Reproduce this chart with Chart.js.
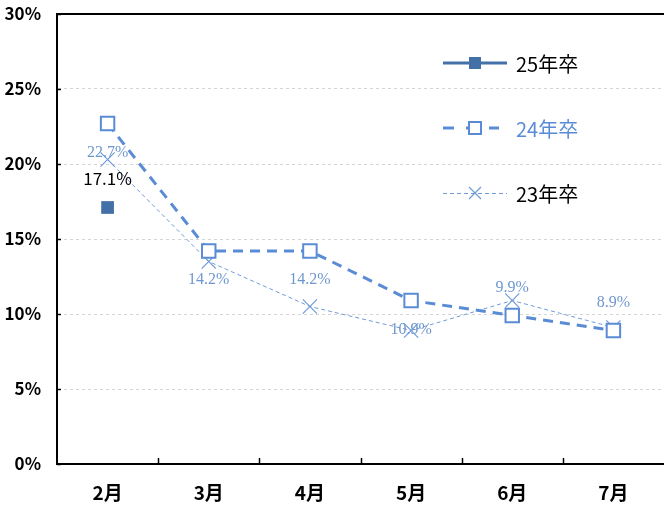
<!DOCTYPE html>
<html>
<head>
<meta charset="utf-8">
<script src="https://cdn.jsdelivr.net/npm/chart.js@4.4.1/dist/chart.umd.min.js"></script>
<style>
  html, body { margin: 0; padding: 0; background: #fff; }
</style>
</head>
<body>
<canvas id="chart" width="664" height="506"></canvas>
<script>
// values (percent)
const months = ['2月', '3月', '4月', '5月', '6月', '7月'];
const grad25 = [17.1, null, null, null, null, null];
const grad24 = [22.7, 14.2, 14.2, 10.9, 9.9, 8.9];
const grad23 = [20.3, 13.5, 10.5, 8.9, 10.9, 9.1];
const yTicks = [0, 5, 10, 15, 20, 25, 30];
const seriesNames = ['25年卒', '24年卒', '23年卒'];
// where the 24年卒 value labels sit relative to their point
const label24Side = ['below', 'below', 'below', 'below', 'above', 'above'];

const C25 = '#4470a8';
const C24 = '#5a8cd6';
const C23 = '#6f9bd8';
const LABEL_BLUE = '#6f97cf';
const SANS = '"Noto Sans CJK JP", "Noto Sans", sans-serif';

// extra drawing: frame top, inside ticks, value labels and the legend
const decor = {
    id: 'decor',
    afterDatasetsDraw(chart) {
        const ctx = chart.ctx;
        const area = chart.chartArea;
        const x = chart.scales.x;
        const y = chart.scales.y;
        ctx.save();

        // top frame line
        ctx.strokeStyle = '#000';
        ctx.lineWidth = 2;
        ctx.beginPath();
        ctx.moveTo(area.left, area.top);
        ctx.lineTo(area.right, area.top);
        ctx.stroke();

        // x ticks between categories, pointing inward
        ctx.lineWidth = 1.5;
        for (let i = 1; i < months.length; i++) {
            const px = Math.round((x.getPixelForValue(i - 1) + x.getPixelForValue(i)) / 2) + 0.5;
            ctx.beginPath();
            ctx.moveTo(px, area.bottom);
            ctx.lineTo(px, area.bottom - 6);
            ctx.stroke();
        }
        // y ticks inward
        yTicks.forEach(v => {
            const py = Math.round(y.getPixelForValue(v)) + 0.5;
            ctx.beginPath();
            ctx.moveTo(area.left, py);
            ctx.lineTo(area.left + 4, py);
            ctx.stroke();
        });

        // 24年卒 value labels
        const meta24 = chart.getDatasetMeta(1);
        ctx.font = '16px "Liberation Serif", serif';
        ctx.fillStyle = LABEL_BLUE;
        ctx.textAlign = 'center';
        ctx.textBaseline = 'middle';
        grad24.forEach((v, i) => {
            const pt = meta24.data[i];
            const dy = label24Side[i] === 'below' ? 29 : -28;
            ctx.fillText(v.toFixed(1) + '%', pt.x, pt.y + dy);
        });

        // 25年卒 value label
        const meta25 = chart.getDatasetMeta(0);
        ctx.font = '17px ' + SANS;
        ctx.fillStyle = '#000';
        grad25.forEach((v, i) => {
            if (v === null) return;
            const pt = meta25.data[i];
            ctx.fillText(v.toFixed(1) + '%', pt.x, pt.y - 29);
        });

        // legend
        const lx1 = 443, lx2 = 507, mx = 475, tx = 516;
        const rows = [63, 128, 193];
        // 25年卒
        ctx.setLineDash([]);
        ctx.strokeStyle = C25;
        ctx.lineWidth = 3;
        ctx.beginPath();
        ctx.moveTo(lx1, rows[0]);
        ctx.lineTo(lx2, rows[0]);
        ctx.stroke();
        ctx.fillStyle = C25;
        ctx.fillRect(mx - 6, rows[0] - 6, 12, 12);
        // 24年卒
        ctx.strokeStyle = C24;
        ctx.setLineDash([11, 12]);
        ctx.beginPath();
        ctx.moveTo(lx1, rows[1]);
        ctx.lineTo(lx2 - 8, rows[1]);
        ctx.stroke();
        ctx.setLineDash([]);
        ctx.fillStyle = '#fff';
        ctx.lineWidth = 2;
        ctx.fillRect(mx - 6, rows[1] - 6, 12, 12);
        ctx.strokeRect(mx - 6, rows[1] - 6, 12, 12);
        // 23年卒
        ctx.strokeStyle = C23;
        ctx.lineWidth = 1;
        ctx.setLineDash([4, 3]);
        ctx.beginPath();
        ctx.moveTo(lx1, rows[2] + 0.5);
        ctx.lineTo(lx2, rows[2] + 0.5);
        ctx.stroke();
        ctx.setLineDash([]);
        ctx.lineWidth = 1.2;
        ctx.beginPath();
        ctx.moveTo(mx - 6, rows[2] - 6);
        ctx.lineTo(mx + 6, rows[2] + 6);
        ctx.moveTo(mx + 6, rows[2] - 6);
        ctx.lineTo(mx - 6, rows[2] + 6);
        ctx.stroke();

        ctx.font = '20px ' + SANS;
        ctx.textAlign = 'left';
        ctx.textBaseline = 'middle';
        const textColors = ['#000', C24, '#000'];
        seriesNames.forEach((name, i) => {
            ctx.fillStyle = textColors[i];
            ctx.fillText(name, tx, rows[i] + 1);
        });

        ctx.restore();
    }
};

new Chart(document.getElementById('chart'), {
    type: 'line',
    data: {
        labels: months,
        datasets: [
            {
                label: seriesNames[0],
                data: grad25,
                borderColor: C25,
                backgroundColor: C25,
                borderWidth: 3,
                pointStyle: 'rect',
                pointRadius: 9,
                pointBorderWidth: 0,
                pointBackgroundColor: C25
            },
            {
                label: seriesNames[1],
                data: grad24,
                borderColor: C24,
                borderWidth: 3,
                borderDash: [10, 7],
                pointStyle: 'rect',
                pointRadius: 9.5,
                pointBorderWidth: 2,
                pointBackgroundColor: '#fff',
                pointBorderColor: C24
            },
            {
                label: seriesNames[2],
                data: grad23,
                borderColor: C23,
                borderWidth: 1,
                borderDash: [4, 3],
                pointStyle: 'crossRot',
                pointRadius: 10,
                pointBorderWidth: 1.2,
                pointBorderColor: C23
            }
        ]
    },
    options: {
        responsive: false,
        animation: false,
        devicePixelRatio: 1,
        layout: {
            autoPadding: false,
            padding: { top: 14, right: -3, left: 0, bottom: 0 }
        },
        scales: {
            x: {
                offset: true,
                grid: { display: false },
                border: { display: true, color: '#000', width: 2 },
                ticks: {
                    padding: 9,
                    color: '#000',
                    font: { family: SANS, size: 19, weight: 'bold' }
                },
                afterFit(scale) {
                    scale.height = 42;
                    scale.paddingLeft = 0;
                    scale.paddingRight = 0;
                }
            },
            y: {
                min: 0,
                max: 30,
                afterBuildTicks(scale) {
                    scale.ticks = yTicks.map(v => ({ value: v }));
                },
                grid: {
                    color: '#d4d4d4',
                    lineWidth: 1,
                    drawTicks: false
                },
                border: { display: true, color: '#000', width: 2, dash: [3, 3] },
                ticks: {
                    padding: 16,
                    color: '#000',
                    callback: v => v + '%',
                    font: { family: SANS, size: 17, weight: 'bold' }
                },
                afterFit(scale) {
                    scale.width = 57;
                    scale.paddingTop = 0;
                    scale.paddingBottom = 0;
                }
            }
        },
        plugins: {
            legend: { display: false },
            tooltip: { enabled: false }
        }
    },
    plugins: [decor]
});
</script>
</body>
</html>
